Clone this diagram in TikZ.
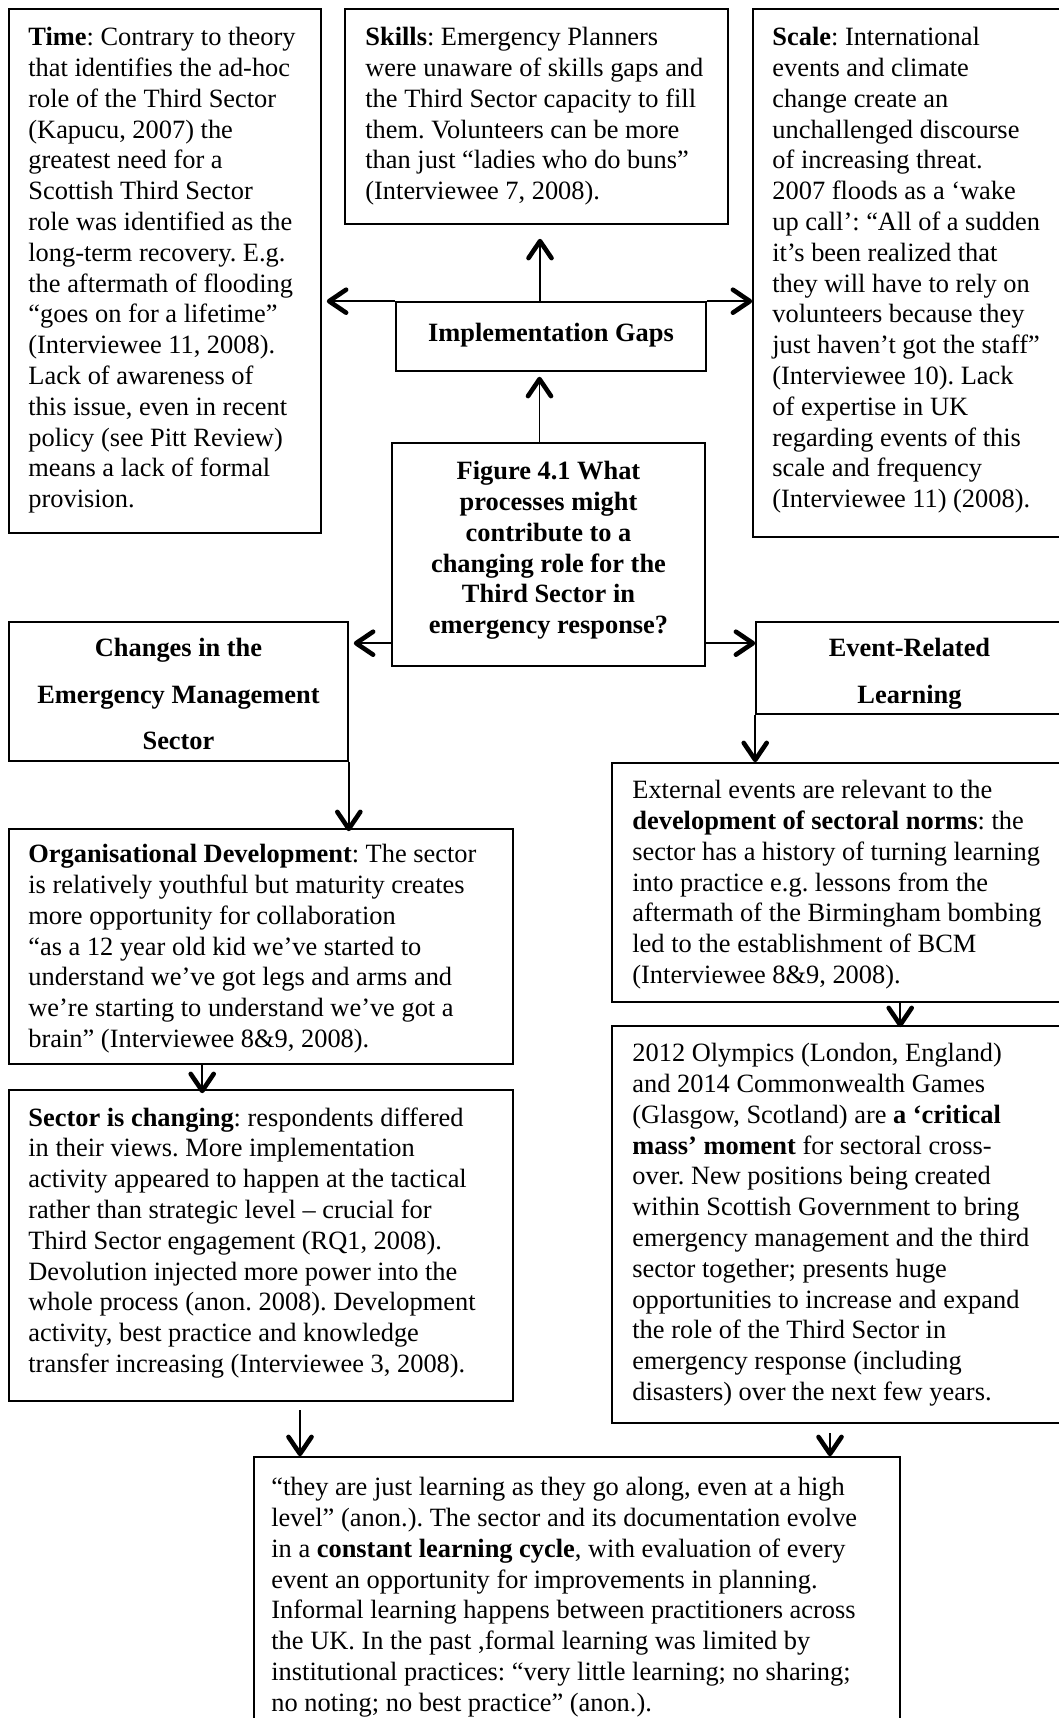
\documentclass[tikz,border=0pt]{standalone}
\usepackage{fontspec}
\setmainfont{Liberation Serif}
\usetikzlibrary{arrows.meta,fit,calc}
\frenchspacing
\begin{document}
\begin{tikzpicture}[x=1pt,y=-1pt,
  box/.style={draw, line width=1.6pt, inner sep=0pt},
  txt/.style={inner sep=0pt, align=left, anchor=north west, font=\frenchspacing\fontsize{26.4}{30.8}\selectfont},
  ctxt/.style={inner sep=0pt, align=center, anchor=north, font=\frenchspacing\bfseries\fontsize{26.4}{30.8}\selectfont},
  arr/.style={line width=1.8pt, -{Straight Barb[length=17pt,width=23pt,line width=4.6pt,round]}}]
\useasboundingbox[fill=white] (0,0) rectangle (1059,1718);

% ---- boxes ----
\node[box, fit={(9,9)(321,533)}] (time) {};
\node[box, fit={(345,9)(728,224)}] (skills) {};
\node[box, fit={(753,9)(1075,537)}] (scale) {};
\node[box, fit={(396,302)(706,371)}] (gaps) {};
\node[box, fit={(392,443)(705,666)}] (question) {};
\node[box, fit={(9,622)(348,761)}] (changes) {};
\node[box, fit={(756,622)(1075,714)}] (event) {};
\node[box, fit={(9,829)(513,1064)}] (orgdev) {};
\node[box, fit={(612,763)(1075,1002)}] (norms) {};
\node[box, fit={(9,1090)(513,1401)}] (sector) {};
\node[box, fit={(612,1026)(1075,1423)}] (games) {};
\node[box, fit={(254,1457)(900,1740)}] (cycle) {};

% ---- texts ----
\node[txt] (timeT) at ([xshift=20pt,yshift=-19pt]time.north west)
 {\textbf{Time}: Contrary to theory\\
  that identifies the ad-hoc\\
  role of the Third Sector\\
  (Kapucu, 2007) the\\
  greatest need for a\\
  Scottish Third Sector\\
  role was identified as the\\
  long-term recovery. E.g.\\
  the aftermath of flooding\\
  “goes on for a lifetime”\\
  (Interviewee 11, 2008).\\
  Lack of awareness of\\
  this issue, even in recent\\
  policy (see Pitt Review)\\
  means a lack of formal\\
  provision.};

\node[txt] (skillsT) at ([xshift=21pt,yshift=-19pt]skills.north west)
 {\textbf{Skills}: Emergency Planners\\
  were unaware of skills gaps and\\
  the Third Sector capacity to fill\\
  them. Volunteers can be more\\
  than just “ladies who do buns”\\
  (Interviewee 7, 2008).};

\node[txt] (scaleT) at ([xshift=20pt,yshift=-19pt]scale.north west)
 {\textbf{Scale}: International\\
  events and climate\\
  change create an\\
  unchallenged discourse\\
  of increasing threat.\\
  2007 floods as a ‘wake\\
  up call’: “All of a sudden\\
  it’s been realized that\\
  they will have to rely on\\
  volunteers because they\\
  just haven’t got the staff”\\
  (Interviewee 10). Lack\\
  of expertise in UK\\
  regarding events of this\\
  scale and frequency\\
  (Interviewee 11) (2008).};

\node[ctxt] (gapsT) at ([yshift=-22pt]gaps.north) {Implementation Gaps};

\node[ctxt] (questionT) at ([yshift=-19pt]question.north)
 {Figure 4.1 What\\
  processes might\\
  contribute to a\\
  changing role for the\\
  Third Sector in\\
  emergency response?};

\node[ctxt, font=\bfseries\fontsize{26.4}{46.5}\selectfont] (changesT) at ([yshift=-17pt]changes.north)
 {Changes in the\\ Emergency Management\\ Sector};

\begin{scope}
  \clip (event.north west) rectangle (event.south east);
  \node[ctxt, font=\bfseries\fontsize{26.4}{46.5}\selectfont] (eventT) at ([xshift=-6pt,yshift=-17pt]event.north)
   {Event-Related\\ Learning};
\end{scope}

\node[txt] (orgdevT) at ([xshift=20pt,yshift=-16pt]orgdev.north west)
 {\textbf{Organisational Development}: The sector\\
  is relatively youthful but maturity creates\\
  more opportunity for collaboration\\
  “as a 12 year old kid we’ve started to\\
  understand we’ve got legs and arms and\\
  we’re starting to understand we’ve got a\\
  brain” (Interviewee 8\&9, 2008).};

\node[txt] (normsT) at ([xshift=21pt,yshift=-18pt]norms.north west)
 {External events are relevant to the\\
  \textbf{development of sectoral norms}: the\\
  sector has a history of turning learning\\
  into practice e.g. lessons from the\\
  aftermath of the Birmingham bombing\\
  led to the establishment of BCM\\
  (Interviewee 8\&9, 2008).};

\node[txt] (sectorT) at ([xshift=20pt,yshift=-18pt]sector.north west)
 {\textbf{Sector is changing}: respondents differed\\
  in their views. More implementation\\
  activity appeared to happen at the tactical\\
  rather than strategic level – crucial for\\
  Third Sector engagement (RQ1, 2008).\\
  Devolution injected more power into the\\
  whole process (anon. 2008). Development\\
  activity, best practice and knowledge\\
  transfer increasing (Interviewee 3, 2008).};

\node[txt] (gamesT) at ([xshift=21pt,yshift=-18pt]games.north west)
 {2012 Olympics (London, England)\\
  and 2014 Commonwealth Games\\
  (Glasgow, Scotland) are \textbf{a ‘critical}\\
  \textbf{mass’ moment} for sectoral cross-\\
  over. New positions being created\\
  within Scottish Government to bring\\
  emergency management and the third\\
  sector together; presents huge\\
  opportunities to increase and expand\\
  the role of the Third Sector in\\
  emergency response (including\\
  disasters) over the next few years.};

\node[txt] (cycleT) at ([xshift=18pt,yshift=-21pt]cycle.north west)
 {“they are just learning as they go along, even at a high\\
  level” (anon.). The sector and its documentation evolve\\
  in a \textbf{constant learning cycle}, with evaluation of every\\
  event an opportunity for improvements in planning.\\
  Informal learning happens between practitioners across\\
  the UK. In the past ,formal learning was limited by\\
  institutional practices: “very little learning; no sharing;\\
  no noting; no best practice” (anon.).};

% ---- connectors ----
\draw[arr, shorten >=5pt] (gaps.north west) -- (gaps.north west -| time.east);
\draw[arr] (gaps.north east) -- (gaps.north east -| scale.west);
\draw[arr, shorten >=14pt] ([xshift=-11pt]gaps.north) -- ([xshift=-11pt]gaps.north |- skills.south);
\draw[arr, shorten >=5pt] ([xshift=-9pt]question.north) -- ([xshift=-9pt]question.north |- gaps.south);
\draw[arr, shorten >=5pt] ([yshift=-201pt]question.north west) -- ([yshift=-201pt]question.north west -| changes.east);
\draw[arr] ([yshift=-201pt]question.north east) -- ([yshift=-201pt]question.north east -| event.west);
\draw[arr, shorten >=-3pt] (changes.south east) -- (changes.south east |- orgdev.north);
\draw[arr] (event.south west) -- (event.south west |- norms.north);
\draw[arr, shorten >=-4pt] ([xshift=194pt]orgdev.south west) -- ([xshift=194pt]orgdev.south west |- sector.north);
\draw[arr, shorten >=-2pt] ([xshift=289pt]norms.south west) -- ([xshift=289pt]norms.south west |- games.north);
\coordinate (leftfree) at (300,1410);
\coordinate (rightfree) at (830,1433);
\draw[arr] (leftfree) -- (leftfree |- cycle.north);
\draw[arr] (rightfree) -- (rightfree |- cycle.north);
\end{tikzpicture}
\end{document}
